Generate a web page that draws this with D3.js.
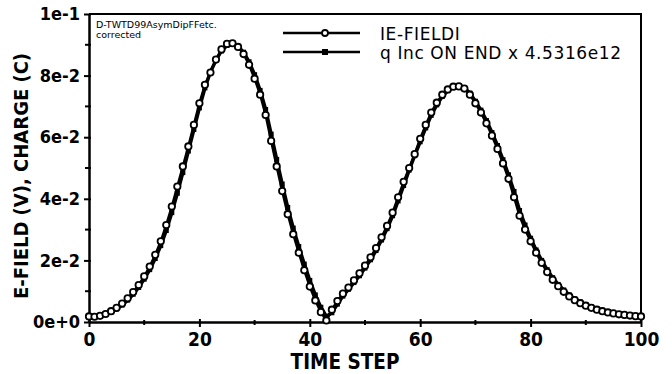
<!DOCTYPE html>
<html>
<head>
<meta charset="utf-8">
<script src="https://cdn.jsdelivr.net/npm/d3@7"></script>
<style>
  body { margin: 0; background: #fff; }
  svg { display: block; }
  text { font-family: "DejaVu Sans", sans-serif; fill: #000; }
</style>
</head>
<body>
<div id="chart"></div>
<script>
let width = 672;
let height = 374;
let margin = ({top: 14, right: 31, bottom: 52, left: 89});
let condensed = "'DejaVu Sans Condensed', 'DejaVu Sans', sans-serif";

// time steps 0..100
let steps = d3.range(0, 101);

// |E-FIELD|, one value per step
let efield = [
  0.0018, 0.0017, 0.0020, 0.0026, 0.0035, 0.0046, 0.0060, 0.0077, 0.0097, 0.0120,
  0.0148, 0.0180, 0.0218, 0.0262, 0.0315, 0.0375, 0.0440, 0.0505, 0.0570, 0.0640,
  0.0710, 0.0770, 0.0810, 0.0852, 0.0885, 0.0903, 0.0905, 0.0893, 0.0870, 0.0835,
  0.0790, 0.0738, 0.0672, 0.0588, 0.0505, 0.0425, 0.0350, 0.0285, 0.0225, 0.0168,
  0.0115, 0.0070, 0.0032, 0.0005, 0.0040, 0.0068, 0.0092, 0.0112, 0.0135, 0.0158,
  0.0183, 0.0210, 0.0240, 0.0275, 0.0312, 0.0355, 0.0405, 0.0455, 0.0500, 0.0545,
  0.0595, 0.0640, 0.0680, 0.0712, 0.0738, 0.0755, 0.0764, 0.0765, 0.0758, 0.0738,
  0.0710, 0.0680, 0.0645, 0.0605, 0.0562, 0.0515, 0.0465, 0.0405, 0.0345, 0.0300,
  0.0262, 0.0225, 0.0192, 0.0162, 0.0137, 0.0116, 0.0098, 0.0083, 0.0071, 0.0061,
  0.0053, 0.0046, 0.0040, 0.0035, 0.0031, 0.0028, 0.0025, 0.0023, 0.0021, 0.0019,
  0.0018
];

// q inc on end, scaled x 4.5316e12
let charge = [
  0.0020, 0.0019, 0.0021, 0.0025, 0.0032, 0.0042, 0.0055, 0.0071, 0.0090, 0.0112,
  0.0139, 0.0170, 0.0206, 0.0248, 0.0297, 0.0355, 0.0418, 0.0485, 0.0555, 0.0625,
  0.0695, 0.0760, 0.0812, 0.0850, 0.0880, 0.0898, 0.0902, 0.0895, 0.0876, 0.0845,
  0.0803, 0.0752, 0.0690, 0.0610, 0.0528, 0.0448, 0.0372, 0.0305, 0.0245, 0.0188,
  0.0135, 0.0088, 0.0048, 0.0018, 0.0030, 0.0058, 0.0084, 0.0106, 0.0128, 0.0150,
  0.0175, 0.0202, 0.0232, 0.0266, 0.0303, 0.0345, 0.0393, 0.0443, 0.0493, 0.0540,
  0.0585, 0.0630, 0.0671, 0.0705, 0.0732, 0.0751, 0.0762, 0.0765, 0.0760, 0.0743,
  0.0717, 0.0688, 0.0654, 0.0615, 0.0573, 0.0527, 0.0478, 0.0424, 0.0362, 0.0315,
  0.0272, 0.0234, 0.0200, 0.0170, 0.0144, 0.0122, 0.0104, 0.0088, 0.0075, 0.0065,
  0.0056, 0.0049, 0.0043, 0.0038, 0.0034, 0.0030, 0.0027, 0.0024, 0.0022, 0.0020,
  0.0019
];

let xTicks = [0, 20, 40, 60, 80, 100];
let yTicks = [0, 0.02, 0.04, 0.06, 0.08, 0.1];
let yTickLabels = ["0e+0", "2e-2", "4e-2", "6e-2", "8e-2", "1e-1"];
let seriesNames = ["IE-FIELDI", "q Inc ON END x 4.5316e12"];
let noteLines = ["D-TWTD99AsymDipFFetc.", "corrected"];

let svg = d3.select("#chart")
    .append("svg")
    .attr("width", width)
    .attr("height", height);

let xScale = d3.scaleLinear()
    .domain([0, 100])
    .range([margin.left, width - margin.right]);

let yScale = d3.scaleLinear()
    .domain([0, 0.1])
    .range([height - margin.bottom, margin.top]);

// frame (top and right)
svg.append("path")
    .attr("d", `M${xScale(0)},${yScale(0.1)}H${xScale(100)}V${yScale(0)}`)
    .attr("fill", "none")
    .attr("stroke", "#000")
    .attr("stroke-width", 2);

// x axis
let xAxis = d3.axisBottom(xScale)
    .tickValues(xTicks)
    .tickFormat(d3.format("d"))
    .tickSize(5)
    .tickPadding(6)
    .tickSizeOuter(0);

let gx = svg.append("g")
    .attr("transform", "translate(0," + yScale(0) + ")")
    .call(xAxis);

gx.select(".domain").attr("stroke-width", 2.5);
gx.selectAll(".tick line").attr("stroke-width", 2).attr("y1", -3);
gx.selectAll(".tick text")
    .style("font-size", "19px")
    .style("font-weight", "bold")
    .style("font-family", condensed);

// minor x ticks
gx.selectAll(".minor")
    .data(d3.range(10, 100, 10).filter(d => d % 20 !== 0))
    .enter()
    .append("line")
    .attr("class", "minor")
    .attr("x1", d => xScale(d))
    .attr("x2", d => xScale(d))
    .attr("y1", -2)
    .attr("y2", 3)
    .attr("stroke", "#000")
    .attr("stroke-width", 2);

// y axis
let yAxis = d3.axisLeft(yScale)
    .tickValues(yTicks)
    .tickFormat((d, i) => yTickLabels[i])
    .tickSize(5)
    .tickPadding(4)
    .tickSizeOuter(0);

let gy = svg.append("g")
    .attr("transform", "translate(" + xScale(0) + ",0)")
    .call(yAxis);

gy.select(".domain").attr("stroke-width", 2.5);
gy.selectAll(".tick line").attr("stroke-width", 2).attr("x1", 2);
gy.selectAll(".tick text")
    .style("font-size", "18px")
    .style("font-weight", "bold")
    .style("font-family", condensed);

gy.selectAll(".minor")
    .data([0.01, 0.03, 0.05, 0.07, 0.09])
    .enter()
    .append("line")
    .attr("class", "minor")
    .attr("x1", -4)
    .attr("x2", 2)
    .attr("y1", d => yScale(d))
    .attr("y2", d => yScale(d))
    .attr("stroke", "#000")
    .attr("stroke-width", 2);

// axis titles
svg.append("text")
    .attr("x", 345)
    .attr("y", 369)
    .attr("text-anchor", "middle")
    .style("font-size", "20.5px")
    .style("font-weight", "bold")
    .style("font-family", condensed)
    .text("TIME STEP");

svg.append("text")
    .attr("transform", "translate(28," + ((yScale(0) + yScale(0.1)) / 2 + 8) + ") rotate(-90)")
    .attr("text-anchor", "middle")
    .style("font-size", "20px")
    .style("font-weight", "bold")
    .style("font-family", condensed)
    .text("E-FIELD (V), CHARGE (C)");

// note in the corner
svg.selectAll(".note")
    .data(noteLines)
    .enter()
    .append("text")
    .attr("class", "note")
    .attr("x", 96)
    .attr("y", (d, i) => 28 + i * 10)
    .style("font-size", "9.5px")
    .text(d => d);

// curves
let line = d3.line()
    .x((d, i) => xScale(steps[i]))
    .y(d => yScale(d));

svg.append("path")
    .datum(charge)
    .attr("d", line)
    .attr("fill", "none")
    .attr("stroke", "#000")
    .attr("stroke-width", 3.5);

svg.append("path")
    .datum(efield)
    .attr("d", line)
    .attr("fill", "none")
    .attr("stroke", "#000")
    .attr("stroke-width", 2.5);

// filled markers for charge
svg.selectAll(".qmark")
    .data(charge)
    .enter()
    .append("rect")
    .attr("class", "qmark")
    .attr("x", (d, i) => xScale(steps[i]) - 2.5)
    .attr("y", d => yScale(d) - 2.5)
    .attr("width", 5)
    .attr("height", 5)
    .attr("fill", "#000");

// open circles for E-field
svg.selectAll(".emark")
    .data(efield)
    .enter()
    .append("circle")
    .attr("class", "emark")
    .attr("cx", (d, i) => xScale(steps[i]))
    .attr("cy", d => yScale(d))
    .attr("r", 3.2)
    .attr("fill", "#fff")
    .attr("stroke", "#000")
    .attr("stroke-width", 1.8);

// legend
let legend = svg.append("g");
seriesNames.forEach(function (name, i) {
    let y = 33 + i * 19;
    legend.append("line")
        .attr("x1", 283).attr("x2", 360)
        .attr("y1", y).attr("y2", y)
        .attr("stroke", "#000")
        .attr("stroke-width", 2.5);
    if (i === 0) {
        legend.append("circle")
            .attr("cx", 325).attr("cy", y).attr("r", 3)
            .attr("fill", "#fff").attr("stroke", "#000").attr("stroke-width", 1.8);
    } else {
        legend.append("rect")
            .attr("x", 322).attr("y", y - 3).attr("width", 6).attr("height", 6)
            .attr("fill", "#000");
    }
    legend.append("text")
        .attr("x", 380)
        .attr("y", y + 7)
        .style("font-size", "17px")
        .style("letter-spacing", "0.6px")
        .text(name);
});
</script>
</body>
</html>
